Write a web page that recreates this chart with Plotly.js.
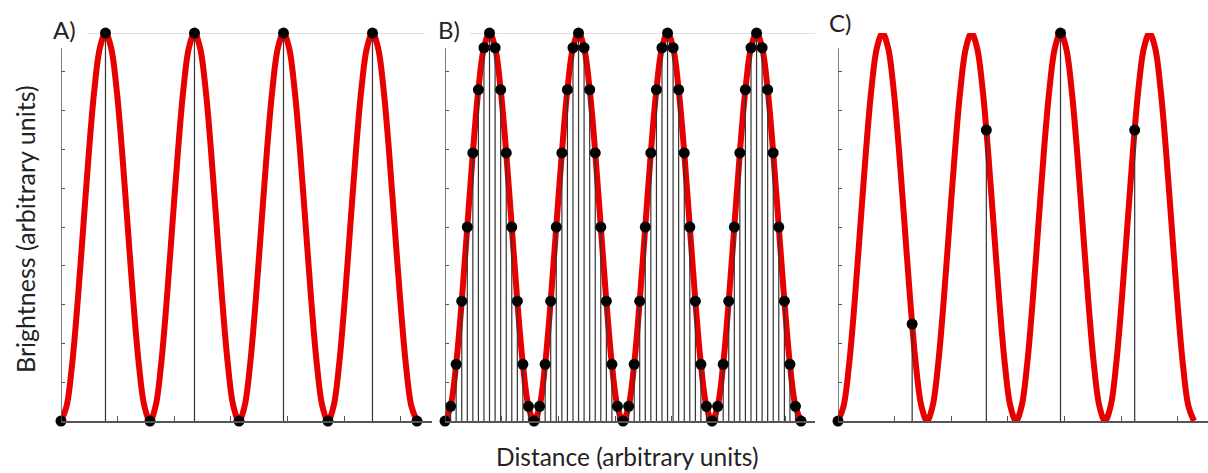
<!DOCTYPE html>
<html>
<head>
<meta charset="utf-8">
<script src="https://cdn.plot.ly/plotly-3.0.1.min.js"></script>
<style>html,body{margin:0;padding:0;background:#fff;}#chart{width:1208px;height:473px;}</style>
</head>
<body>
<div id="chart"></div>
<script>
// Continuous signal (red curve), read at 16 points per period
const curveX = [0, 0.098, 0.196, 0.295, 0.393, 0.491, 0.589, 0.687, 0.785, 0.884, 0.982, 1.080, 1.178, 1.276, 1.374, 1.473,
  1.571, 1.669, 1.767, 1.865, 1.963, 2.062, 2.160, 2.258, 2.356, 2.454, 2.553, 2.651, 2.749, 2.847, 2.945, 3.043,
  3.142, 3.240, 3.338, 3.436, 3.534, 3.632, 3.731, 3.829, 3.927, 4.025, 4.123, 4.222, 4.320, 4.418, 4.516, 4.614,
  4.712, 4.811, 4.909, 5.007, 5.105, 5.203, 5.301, 5.400, 5.498, 5.596, 5.694, 5.792, 5.890, 5.989, 6.087, 6.185, 6.283];
const curveY = [0, 0.038, 0.146, 0.309, 0.5, 0.691, 0.854, 0.962, 1, 0.962, 0.854, 0.691, 0.5, 0.309, 0.146, 0.038,
  0, 0.038, 0.146, 0.309, 0.5, 0.691, 0.854, 0.962, 1, 0.962, 0.854, 0.691, 0.5, 0.309, 0.146, 0.038,
  0, 0.038, 0.146, 0.309, 0.5, 0.691, 0.854, 0.962, 1, 0.962, 0.854, 0.691, 0.5, 0.309, 0.146, 0.038,
  0, 0.038, 0.146, 0.309, 0.5, 0.691, 0.854, 0.962, 1, 0.962, 0.854, 0.691, 0.5, 0.309, 0.146, 0.038, 0];

// Panel A samples (peaks and troughs)
const sampleAX = [0, 0.785, 1.571, 2.356, 3.142, 3.927, 4.712, 5.498, 6.283];
const sampleAY = [0, 1, 0, 1, 0, 1, 0, 1, 0];

// Panel B samples (dense sampling)
const sampleBX = curveX.slice();
const sampleBY = curveY.slice();

// Panel C samples (undersampled)
const sampleCX = [0, 1.309, 2.618, 3.927, 5.236];
const sampleCY = [0, 0.25, 0.75, 1, 0.75];

const xTicks = [1, 2, 3, 4, 5, 6];
const yTicks = [0.1, 0.2, 0.3, 0.4, 0.5, 0.6, 0.7, 0.8, 0.9];
const panelLabels = ['A)', 'B)', 'C)'];
const xTitle = 'Distance (arbitrary units)';
const yTitle = 'Brightness (arbitrary units)';

const RED = 'rgb(232,0,0)';
const AXC = '#555555';
const FONT = 'Lato, "Open Sans", sans-serif';

function stems(xs, ys) {
  const sx = [], sy = [];
  for (let i = 0; i < xs.length; i++) {
    sx.push(xs[i], xs[i], null);
    sy.push(0, ys[i], null);
  }
  return {sx, sy};
}

const panels = [
  {x: sampleAX, y: sampleAY, xa: 'x', ya: 'y'},
  {x: sampleBX, y: sampleBY, xa: 'x2', ya: 'y2'},
  {x: sampleCX, y: sampleCY, xa: 'x3', ya: 'y3'}
];

const traces = [];
panels.forEach(p => {
  traces.push({x: curveX, y: curveY, xaxis: p.xa, yaxis: p.ya, mode: 'lines', type: 'scatter',
    line: {color: RED, width: 6, shape: 'spline', smoothing: 1}, hoverinfo: 'skip'});
  const s = stems(p.x, p.y);
  traces.push({x: s.sx, y: s.sy, xaxis: p.xa, yaxis: p.ya, mode: 'lines', type: 'scatter',
    line: {color: '#333', width: 1.2}, connectgaps: false, hoverinfo: 'skip'});
  traces.push({x: p.x, y: p.y, xaxis: p.xa, yaxis: p.ya, mode: 'markers', type: 'scatter',
    marker: {color: '#000', size: 11}, cliponaxis: false});
});

function xAxis(domain, range) {
  return {domain, range, showgrid: false, zeroline: false, showline: true, linecolor: AXC, linewidth: 1.5,
    ticks: 'inside', ticklen: 5, tickwidth: 1, tickcolor: AXC, tickvals: xTicks, showticklabels: false, fixedrange: true};
}
function yAxis(anchor) {
  return {domain: [0.1099, 0.9302], range: [0, 1], anchor, showgrid: false, zeroline: false, showline: false,
    ticks: 'inside', ticklen: 4, tickwidth: 1, tickcolor: AXC, tickvals: yTicks, showticklabels: false, fixedrange: true};
}

const layout = {
  width: 1208, height: 473,
  margin: {l: 0, r: 0, t: 0, b: 0},
  paper_bgcolor: '#fff', plot_bgcolor: 'rgba(0,0,0,0)',
  showlegend: false,
  xaxis: Object.assign(xAxis([0.0505, 0.3576], [0, 6.548]), {anchor: 'y'}),
  xaxis2: Object.assign(xAxis([0.3684, 0.6747], [0, 6.53]), {anchor: 'y2'}),
  xaxis3: Object.assign(xAxis([0.6937, 1], [0, 6.53]), {anchor: 'y3'}),
  yaxis: yAxis('x'),
  yaxis2: yAxis('x2'),
  yaxis3: yAxis('x3'),
  shapes: [
    {type: 'line', xref: 'x', yref: 'y', x0: 0, x1: 0, y0: 0, y1: 0.961, line: {color: AXC, width: 1.5}},
    {type: 'line', xref: 'x2', yref: 'y2', x0: 0, x1: 0, y0: 0, y1: 0.961, line: {color: AXC, width: 1.5}},
    {type: 'line', xref: 'x3', yref: 'y3', x0: 0, x1: 0, y0: 0, y1: 0.961, line: {color: AXC, width: 1.5}},
    {type: 'line', xref: 'x', yref: 'y', x0: 0.46, x1: 6.42, y0: 1, y1: 1, layer: 'below', line: {color: '#c4c4c4', width: 1.2}},
    {type: 'line', xref: 'x2', yref: 'y2', x0: 0.44, x1: 6.53, y0: 1, y1: 1, layer: 'below', line: {color: '#c4c4c4', width: 1.2}}
  ],
  annotations: [
    {text: panelLabels[0], xref: 'paper', yref: 'paper', x: 0.042, y: 0.9366, xanchor: 'left', yanchor: 'middle', showarrow: false, font: {family: FONT, size: 24, color: '#222'}},
    {text: panelLabels[1], xref: 'paper', yref: 'paper', x: 0.3610, y: 0.9366, xanchor: 'left', yanchor: 'middle', showarrow: false, font: {family: FONT, size: 24, color: '#222'}},
    {text: panelLabels[2], xref: 'paper', yref: 'paper', x: 0.6846, y: 0.9514, xanchor: 'left', yanchor: 'middle', showarrow: false, font: {family: FONT, size: 24, color: '#222'}},
    {text: yTitle, xref: 'paper', yref: 'paper', x: 0.0207, y: 0.516, xanchor: 'center', yanchor: 'middle', textangle: -90, showarrow: false, font: {family: FONT, size: 25, color: '#222'}},
    {text: xTitle, xref: 'paper', yref: 'paper', x: 0.519, y: 0, xanchor: 'center', yanchor: 'bottom', showarrow: false, font: {family: FONT, size: 24.5, color: '#222'}}
  ]
};

Plotly.newPlot('chart', traces, layout, {displayModeBar: false, staticPlot: true});
</script>
</body>
</html>
